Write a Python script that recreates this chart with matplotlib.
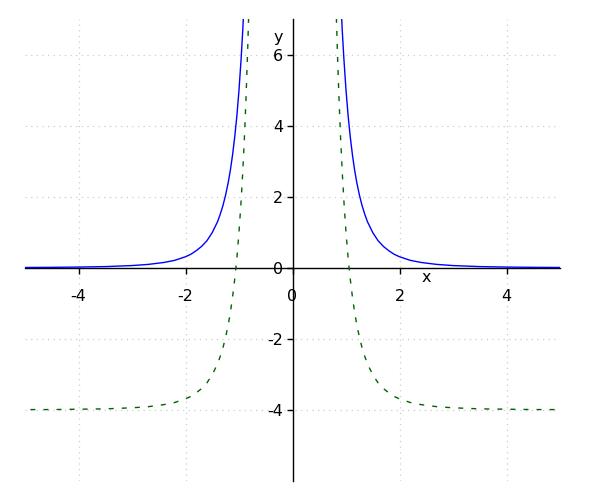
import matplotlib
matplotlib.use("Agg")
import matplotlib.pyplot as plt
import numpy as np

# Values (right branch; the picture is mirror-symmetric about x=0)
blue_x = [0.90, 0.93, 0.96, 1.00, 1.04, 1.08, 1.12, 1.16, 1.20, 1.25, 1.30, 1.35,
          1.40, 1.50, 1.60, 1.70, 1.80, 1.90, 2.00, 2.20, 2.40, 2.70, 3.00, 3.50,
          4.00, 4.50, 5.00]
blue_y = [7.62, 6.68, 5.89, 5.00, 4.27, 3.68, 3.18, 2.76, 2.41, 2.05, 1.75, 1.51,
          1.30, 0.99, 0.76, 0.60, 0.48, 0.38, 0.31, 0.21, 0.15, 0.094, 0.062, 0.033,
          0.020, 0.012, 0.008]

green_x = [0.81, 0.82, 0.84, 0.87, 0.90, 0.93, 0.96, 1.00, 1.04, 1.08, 1.12, 1.16,
           1.20, 1.25, 1.30, 1.35, 1.40, 1.50, 1.60, 1.70, 1.80, 1.90, 2.00, 2.20,
           2.40, 2.70, 3.00, 3.50, 4.00, 4.50, 5.00]
green_y = [7.4, 7.06, 6.04, 4.73, 3.62, 2.69, 1.89, 1.00, 0.27, -0.32, -0.82, -1.24,
           -1.59, -1.95, -2.25, -2.49, -2.70, -3.01, -3.24, -3.40, -3.52, -3.62, -3.69, -3.79,
           -3.85, -3.91, -3.94, -3.97, -3.98, -3.99, -3.99]

x_ticks = [-4, -2, 0, 2, 4]
y_ticks = [-4, -2, 0, 2, 4, 6]

fig = plt.figure(figsize=(6, 5), dpi=100)
ax = fig.add_axes([25/600, 1 - 481/500, 535/600, 462/500])
ax.set_xlim(-5, 5)
ax.set_ylim(-6, 7)

bx = np.array(blue_x); by = np.array(blue_y)
gx = np.array(green_x); gy = np.array(green_y)

blue = "#0000ff"
green = "#006400"
ax.plot(-bx, by, color=blue, lw=1.0, zorder=3)
ax.plot(bx, by, color=blue, lw=1.0, zorder=3)
ax.plot(-gx, gy, color=green, lw=1.0, ls=(0, (3.6, 5.8)), zorder=3)
ax.plot(gx, gy, color=green, lw=1.0, ls=(0, (3.6, 5.8)), zorder=3)

for s in ["top", "right"]:
    ax.spines[s].set_visible(False)
ax.spines["left"].set_position(("data", 0))
ax.spines["bottom"].set_position(("data", 0))
ax.spines["left"].set_linewidth(1.0)
ax.spines["bottom"].set_linewidth(1.0)

ax.set_xticks(x_ticks)
ax.set_yticks(y_ticks)
ax.set_xticklabels([str(t) for t in x_ticks])
ax.set_yticklabels([str(t) for t in y_ticks])
ax.tick_params(axis="x", direction="out", length=4, width=1, pad=11, labelsize=11.5)
ax.tick_params(axis="y", direction="out", length=4, width=1, pad=2.5, labelsize=11.5)

for t in [-4, -2, 2, 4]:
    ax.axvline(t, color="#cccccc", lw=0.9, ls=(0, (1, 3.5)), zorder=0)
for t in [-4, -2, 2, 4, 6]:
    ax.axhline(t, color="#cccccc", lw=0.9, ls=(0, (1, 3.5)), zorder=0)

ax.text(2.5, -0.28, "x", ha="center", va="center", fontsize=11.5)
ax.text(-0.26, 6.48, "y", ha="center", va="center", fontsize=11.5)

fig.savefig("out.png", dpi=100)
